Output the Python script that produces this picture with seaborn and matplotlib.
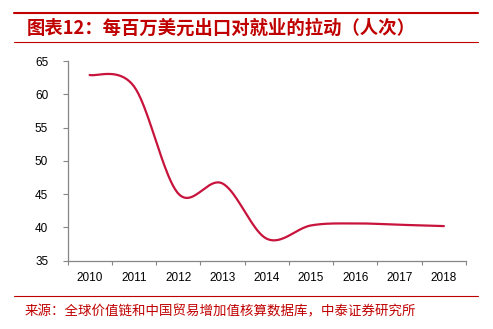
import numpy as np
import pandas as pd
import matplotlib
matplotlib.use("Agg")
import matplotlib.pyplot as plt
from matplotlib.lines import Line2D
import seaborn as sns

years = ["2010", "2011", "2012", "2013", "2014", "2015", "2016", "2017", "2018"]
values = [62.9, 61.2, 45.1, 46.6, 38.3, 40.3, 40.6, 40.4, 40.2]
y_ticks = [35, 40, 45, 50, 55, 60, 65]
title_text = "图表12：每百万美元出口对就业的拉动（人次）"
source_text = "来源：全球价值链和中国贸易增加值核算数据库，中泰证券研究所"

sns.set_theme(style="white")
plt.rcParams["font.family"] = ["Liberation Sans", "DejaVu Sans"]

RED = "#C00000"
LINE = "#C8143C"
GREY = "#868686"


def smooth(xs, ys, n=40):
    # Catmull-Rom style smoothing (as in Excel "smoothed line")
    xs = np.asarray(xs, float)
    ys = np.asarray(ys, float)
    px = np.concatenate([[xs[0]], xs, [xs[-1]]])
    py = np.concatenate([[ys[0]], ys, [ys[-1]]])
    outx, outy = [], []
    for i in range(1, len(px) - 2):
        p0, p1, p2, p3 = (np.array([px[j], py[j]]) for j in (i - 1, i, i + 1, i + 2))
        c1 = p1 + (p2 - p0) / 6.0
        c2 = p2 - (p3 - p1) / 6.0
        t = np.linspace(0, 1, n, endpoint=(i == len(px) - 3))
        b = ((1 - t) ** 3)[:, None] * p1 + (3 * (1 - t) ** 2 * t)[:, None] * c1 \
            + (3 * (1 - t) * t ** 2)[:, None] * c2 + (t ** 3)[:, None] * p2
        outx.extend(b[:, 0])
        outy.extend(b[:, 1])
    return np.array(outx), np.array(outy)


fig = plt.figure(figsize=(4.93, 3.29), dpi=100)
ax = fig.add_axes([67.5 / 493, 1 - 260.7 / 329, (466 - 67.5) / 493, (260.7 - 61) / 329])

pos = np.arange(len(years))
sx, sy = smooth(pos, values)
df = pd.DataFrame({"x": sx, "y": sy})
sns.lineplot(data=df, x="x", y="y", sort=False, color=LINE, linewidth=1.6, ax=ax)

ax.set_xlim(-0.5, len(years) - 0.5)
ax.set_ylim(35, 65)
ax.set_xlabel("")
ax.set_ylabel("")

ax.set_xticks(np.arange(len(years) + 1) - 0.5)
ax.set_xticklabels([])
ax.set_xticks(pos, minor=True)
ax.set_xticklabels(years, minor=True)
ax.tick_params(axis="x", which="major", direction="out", length=3.2, width=0.8, color=GREY, bottom=True)
ax.tick_params(axis="x", which="minor", length=0, pad=8, labelsize=8.5, labelcolor="black", bottom=True)

ax.set_yticks(y_ticks)
ax.set_yticklabels([str(v) for v in y_ticks])
ax.tick_params(axis="y", direction="out", length=3.4, width=0.8, color=GREY, pad=10.5,
               labelsize=8.5, labelcolor="black", left=True)

for s in ["top", "right"]:
    ax.spines[s].set_visible(False)
for s in ["left", "bottom"]:
    ax.spines[s].set_color(GREY)
    ax.spines[s].set_linewidth(0.9)
ax.grid(False)

# decorative header/footer rules
fig.add_artist(Line2D([14 / 493, 478 / 493], [1 - 12.5 / 329] * 2, color=RED, linewidth=1.5))
fig.add_artist(Line2D([14 / 493, 478 / 493], [1 - 42.3 / 329] * 2, color=RED, linewidth=0.8))
fig.add_artist(Line2D([14 / 493, 478 / 493], [1 - 296 / 329] * 2, color=RED, linewidth=0.8))

fig.text(27 / 493, 1 - 28.5 / 329, title_text, color=RED, fontsize=13.2, fontweight="bold",
         family=["Noto Sans CJK SC", "DejaVu Sans"], ha="left", va="center")
fig.text(25 / 493, 1 - 311.5 / 329, source_text, color=RED, fontsize=9.7,
         family=["Noto Sans CJK SC", "DejaVu Sans"], ha="left", va="center")

fig.savefig("out.png", dpi=100)
